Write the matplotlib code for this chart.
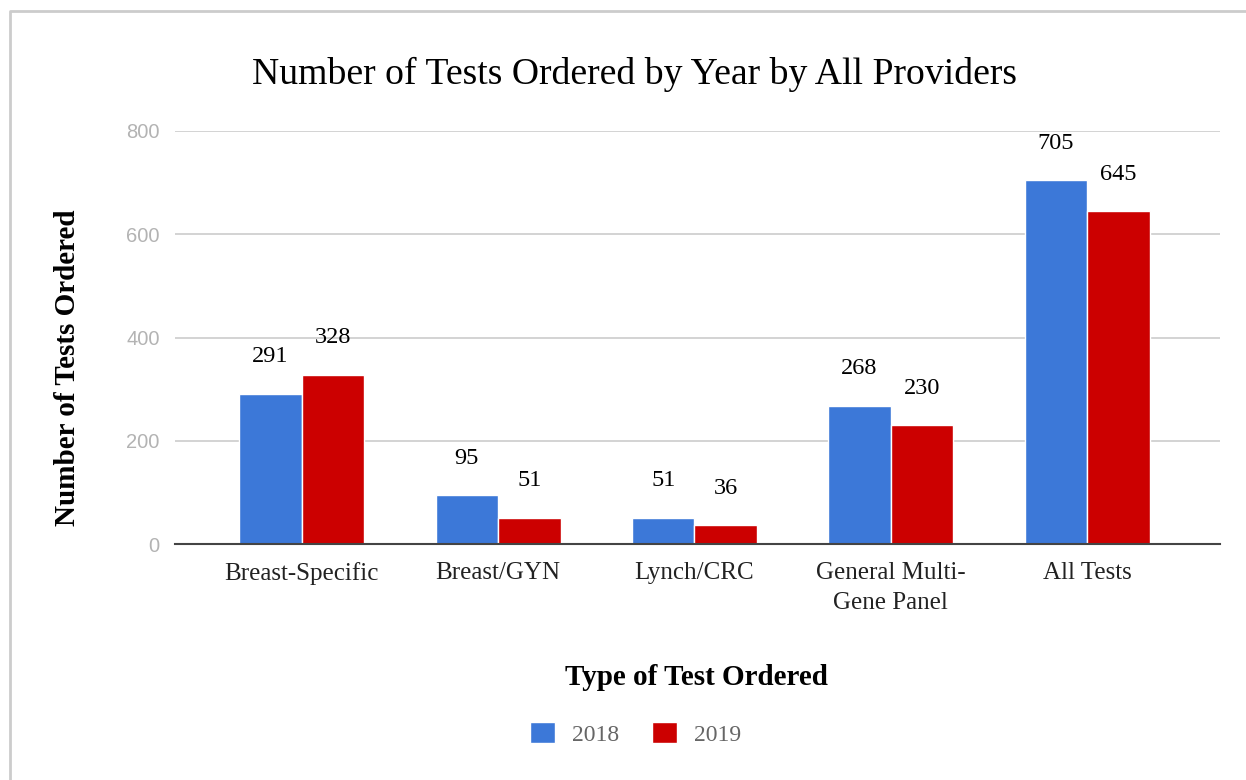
import numpy as np
import matplotlib.pyplot as plt
from matplotlib.lines import Line2D

categories = ['Breast-Specific', 'Breast/GYN', 'Lynch/CRC', 'General Multi-\nGene Panel', 'All Tests']
tests_2018 = [291, 95, 51, 268, 705]
tests_2019 = [328, 51, 36, 230, 645]
years = ['2018', '2019']
y_ticks = [0, 200, 400, 600, 800]

blue = '#3c78d8'
red = '#cc0000'
serif = ['Liberation Serif', 'DejaVu Serif']
sans = ['Liberation Sans', 'DejaVu Sans']

fig = plt.figure(figsize=(12.46, 7.8), dpi=100)
ax = fig.add_axes([175/1246, 1-544/780, (1220-175)/1246, (544-131)/780])

x = np.arange(len(categories))
w = 0.318
b1 = ax.bar(x - w/2, tests_2018, w, color=blue, edgecolor='white', linewidth=1, label=years[0], zorder=3)
b2 = ax.bar(x + w/2, tests_2019, w, color=red, edgecolor='white', linewidth=1, label=years[1], zorder=3)

# value labels above bars
for bars in (b1, b2):
    for rect in bars:
        h = rect.get_height()
        ax.annotate(str(int(h)), (rect.get_x() + rect.get_width()/2, h),
                    xytext=(0, 19), textcoords='offset points', ha='center', va='bottom',
                    fontsize=17.5, family=serif, color='black')

ax.set_xlim(-0.646, 4.677)
ax.set_ylim(0, 800)
ax.set_yticks(y_ticks)
ax.set_yticklabels([str(v) for v in y_ticks], family=sans, fontsize=14.5, color='#b3b3b3')
ax.set_xticks(x)
ax.set_xticklabels(categories, family=serif, fontsize=18, color='#222222', linespacing=1.45)
ax.tick_params(axis='both', length=0)
ax.tick_params(axis='y', pad=11)
ax.tick_params(axis='x', pad=13)
ax.grid(axis='y', color='#cccccc', linewidth=1.2, zorder=0)
for s in ['top', 'right', 'left']:
    ax.spines[s].set_visible(False)
ax.spines['bottom'].set_color('#444444')
ax.spines['bottom'].set_linewidth(1.5)
ax.spines['bottom'].set_zorder(4)

fig.text(0.509, 0.904, 'Number of Tests Ordered by Year by All Providers', ha='center', va='center',
         fontsize=27.2, family=serif, color='black')
fig.text(0.054, 0.528, 'Number of Tests Ordered', rotation=90, ha='center', va='center',
         fontsize=21, family=serif, weight='bold', color='black')
fig.text(0.5586, 0.131, 'Type of Test Ordered', ha='center', va='center',
         fontsize=21, family=serif, weight='bold', color='black')

leg = fig.legend(handles=[b1, b2], labels=years, loc='center', bbox_to_anchor=(0.51, 0.059),
                 ncol=2, frameon=False, prop={'family': serif, 'size': 17},
                 handlelength=1.06, handleheight=1.0, columnspacing=1.4, handletextpad=0.72)
for t in leg.get_texts():
    t.set_color('#666666')

fig.add_artist(Line2D([10/1246, 10/1246, 1], [0, 1-11/780, 1-11/780], transform=fig.transFigure,
                      color='#cccccc', linewidth=2))

fig.savefig('out.png', dpi=100)
